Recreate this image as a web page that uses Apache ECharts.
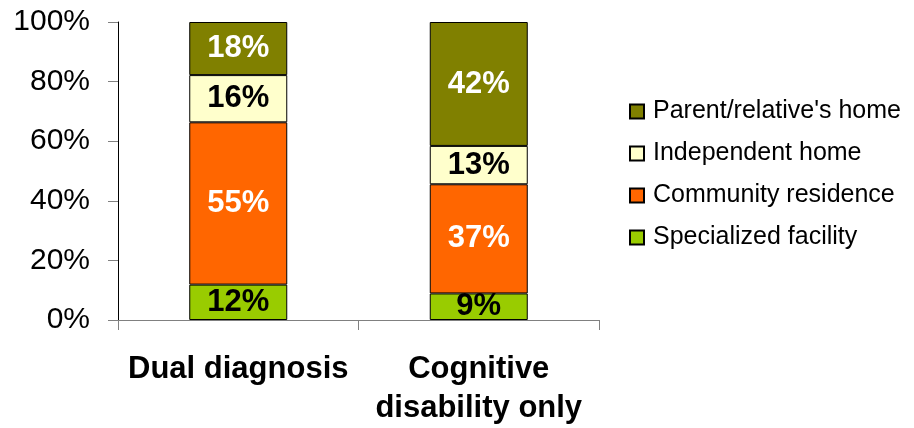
<!DOCTYPE html>
<html>
<head>
<meta charset="utf-8">
<style>
  html, body { margin: 0; padding: 0; background: #fff; }
  #chart { width: 914px; height: 428px; }
</style>
<script src="https://cdn.jsdelivr.net/npm/echarts@6/dist/echarts.min.js"></script>
</head>
<body>
<div id="chart"></div>
<script>
// Living arrangement by diagnosis group (percent of each group)
const categories = ['Dual diagnosis', 'Cognitive\ndisability only'];
const specialized = [12, 9];
const community = [55, 37];
const independent = [16, 13];
const parentHome = [18, 42];
const yTicks = [0, 20, 40, 60, 80, 100];

const seriesDefs = [
  { name: 'Specialized facility', values: specialized, color: '#99CC00', text: '#000' },
  { name: 'Community residence', values: community, color: '#FF6600', text: '#fff' },
  { name: 'Independent home', values: independent, color: '#FFFFCC', text: '#000' },
  { name: "Parent/relative's home", values: parentHome, color: '#808000', text: '#fff' }
];

// Column totals so every bar fills 100%
const totals = categories.map((_, i) => seriesDefs.reduce((s, d) => s + d.values[i], 0));

const FONT = 'Liberation Sans, Arial, sans-serif';

const chart = echarts.init(document.getElementById('chart'));
chart.setOption({
  animation: false,
  grid: { left: 118, right: 315, top: 22, bottom: 107, containLabel: false },
  legend: {
    orient: 'vertical',
    left: 629,
    top: 99,
    padding: 0,
    itemWidth: 14,
    itemHeight: 14,
    itemGap: 17,
    icon: 'rect',
    data: ["Parent/relative's home", 'Independent home', 'Community residence', 'Specialized facility'],
    textStyle: { fontFamily: FONT, fontSize: 25, lineHeight: 25, color: '#000', padding: [0, 0, 0, 4] }
  },
  xAxis: {
    type: 'category',
    data: categories,
    axisLine: { lineStyle: { color: '#808080', width: 1 } },
    axisTick: { show: true, length: 10, lineStyle: { color: '#808080' } },
    axisLabel: {
      interval: 0,
      margin: 30,
      fontFamily: FONT,
      fontSize: 31,
      fontWeight: 'bold',
      color: '#000',
      lineHeight: 39
    }
  },
  yAxis: {
    type: 'value',
    min: yTicks[0],
    max: yTicks[yTicks.length - 1],
    interval: yTicks[1] - yTicks[0],
    axisLine: { show: true, lineStyle: { color: '#000', width: 1 } },
    axisTick: { show: true, length: 10, lineStyle: { color: '#808080' } },
    splitLine: { show: false },
    axisLabel: {
      margin: 28,
      fontFamily: FONT,
      fontSize: 30,
      color: '#000',
      formatter: v => v + '%'
    }
  },
  series: seriesDefs.map(d => ({
    name: d.name,
    type: 'bar',
    stack: 'total',
    barWidth: 98,
    itemStyle: { color: d.color, borderColor: '#000', borderWidth: 1 },
    label: {
      show: true,
      position: 'inside',
      fontFamily: FONT,
      fontSize: 31,
      fontWeight: 'bold',
      color: d.text,
      formatter: p => p.data.raw + '%'
    },
    data: d.values.map((v, i) => ({ value: v / totals[i] * 100, raw: v }))
  }))
});
</script>
</body>
</html>
